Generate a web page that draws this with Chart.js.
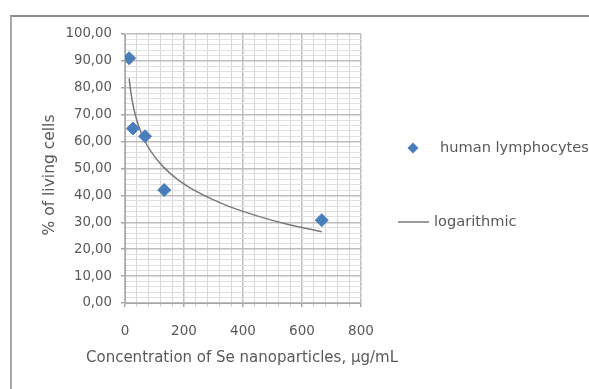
<!DOCTYPE html>
<html>
<head>
<meta charset="utf-8">
<script src="https://cdn.jsdelivr.net/npm/chart.js@4.4.1/dist/chart.umd.min.js"></script>
<style>
    html, body { margin: 0; padding: 0; background: #fff; }
    #frame { position: absolute; left: 10px; top: 15px; width: 640px; height: 420px;
             border-top: 2px solid #8c8c8c; border-left: 2px solid #a8a8a8; }
    #wrap { position: absolute; left: 0; top: 0; width: 589px; height: 389px; }
</style>
</head>
<body>
<div id="frame"></div>
<div id="wrap"><canvas id="myChart" width="589" height="389"></canvas></div>
<script>
// measured points (concentration in ug/mL, % of living cells)
var concentration = [14, 27, 68, 133, 667];
var living_cells = [91.0, 64.9, 62.0, 42.0, 30.8];

// logarithmic trend line
var trend_x = [14, 20, 30, 45, 65, 90, 130, 180, 250, 350, 450, 550, 667];
var trend_y = [83.5, 78.2, 72.2, 66.2, 60.8, 56.0, 50.6, 45.8, 41.0, 36.0, 32.3, 29.3, 26.5];

var series_names = ['human lymphocytes', 'logarithmic'];
var x_labels = [0, 200, 400, 600, 800];
var y_labels = [0, 10, 20, 30, 40, 50, 60, 70, 80, 90, 100];
var x_title = 'Concentration of Se nanoparticles, µg/mL';
var y_title = '% of living cells';

var textColor = '#595959';
var fontName = "'DejaVu Sans', sans-serif";

var points = [];
for (var i = 0; i < concentration.length; i++) {
    points.push({ x: concentration[i], y: living_cells[i] });
}
var trend = [];
for (var j = 0; j < trend_x.length; j++) {
    trend.push({ x: trend_x[j], y: trend_y[j] });
}

// legend on the right + axis titles (the built-in ones get squeezed / centred)
var sideLegend = {
    id: 'sideLegend',
    afterDraw: function(chart) {
        var ctx = chart.ctx;
        var ds = chart.data.datasets;
        ctx.save();
        ctx.font = '14.6px ' + fontName;
        ctx.fillStyle = textColor;
        ctx.textBaseline = 'middle';
        ctx.textAlign = 'left';

        // diamond
        var cx = 413, cy = 148, r = 5.5;
        ctx.beginPath();
        ctx.moveTo(cx, cy - r);
        ctx.lineTo(cx + r, cy);
        ctx.lineTo(cx, cy + r);
        ctx.lineTo(cx - r, cy);
        ctx.closePath();
        ctx.fillStyle = ds[0].backgroundColor;
        ctx.fill();
        ctx.fillStyle = textColor;
        ctx.fillText(ds[0].label, 440, cy);

        // line
        ctx.beginPath();
        ctx.moveTo(398, 222);
        ctx.lineTo(429, 222);
        ctx.strokeStyle = ds[1].borderColor;
        ctx.lineWidth = ds[1].borderWidth;
        ctx.stroke();
        ctx.fillText(ds[1].label, 434, 222);

        // x axis title
        ctx.font = '15px ' + fontName;
        ctx.textAlign = 'center';
        ctx.fillText(x_title, 242, 358);

        // y axis title
        ctx.font = '15.5px ' + fontName;
        ctx.translate(50, 175);
        ctx.rotate(-Math.PI / 2);
        ctx.fillText(y_title, 0, 0);
        ctx.restore();
    }
};

var ctx = document.getElementById('myChart').getContext('2d');
var chart = new Chart(ctx, {
    type: 'scatter',
    data: {
        datasets: [{
            label: series_names[0],
            data: points,
            backgroundColor: '#4a7ebb',
            borderColor: '#4a7ebb',
            pointStyle: 'rectRot',
            pointRadius: 6.5,
            pointHoverRadius: 6.5,
            order: 1
        }, {
            label: series_names[1],
            data: trend,
            showLine: true,
            borderColor: '#7a7a7a',
            borderWidth: 1.5,
            pointRadius: 0,
            cubicInterpolationMode: 'monotone',
            order: 2
        }]
    },
    options: {
        responsive: false,
        animation: false,
        layout: { padding: { left: 30, right: 228, top: 34, bottom: 0 } },
        plugins: {
            legend: { display: false },
            tooltip: { enabled: false }
        },
        scales: {
            x: {
                type: 'linear',
                min: 0,
                max: 800,
                afterFit: function(scale) { scale.height = 86; },
                afterBuildTicks: function(scale) {
                    var t = [];
                    for (var v = 0; v <= 800; v += 40) t.push({ value: v });
                    scale.ticks = t;
                },
                ticks: {
                    autoSkip: false,
                    maxRotation: 0,
                    padding: 16,
                    color: textColor,
                    font: { family: fontName, size: 13.5 },
                    callback: function(value) {
                        return x_labels.indexOf(value) >= 0 ? String(value) : '';
                    }
                },
                grid: {
                    tickLength: 4,
                    lineWidth: function(c) { return c.tick && c.tick.value % 200 === 0 ? 1.5 : 1; },
                    color: function(c) { return c.tick && c.tick.value % 200 === 0 ? '#bdbdbd' : '#d6d6d6'; },
                    tickColor: function(c) { return c.tick && c.tick.value % 200 === 0 ? '#a6a6a6' : '#d0d0d0'; }
                },
                border: { color: '#a6a6a6' }
            },
            y: {
                min: 0,
                max: 100,
                afterFit: function(scale) { scale.width = 95; },
                afterBuildTicks: function(scale) {
                    var t = [];
                    for (var v = 0; v <= 100; v += 2) t.push({ value: v });
                    scale.ticks = t;
                },
                ticks: {
                    autoSkip: false,
                    padding: 9,
                    color: textColor,
                    font: { family: fontName, size: 13.3 },
                    callback: function(value) {
                        return y_labels.indexOf(value) >= 0 ? value.toFixed(2).replace('.', ',') : '';
                    }
                },
                grid: {
                    tickLength: 4,
                    lineWidth: function(c) { return c.tick && c.tick.value % 10 === 0 ? 1.5 : 1; },
                    color: function(c) { return c.tick && c.tick.value % 10 === 0 ? '#bdbdbd' : '#e0e0e0'; },
                    tickColor: function(c) { return c.tick && c.tick.value % 10 === 0 ? '#a6a6a6' : 'rgba(0,0,0,0)'; }
                },
                border: { color: '#a6a6a6' }
            }
        }
    },
    plugins: [sideLegend]
});
</script>
</body>
</html>
